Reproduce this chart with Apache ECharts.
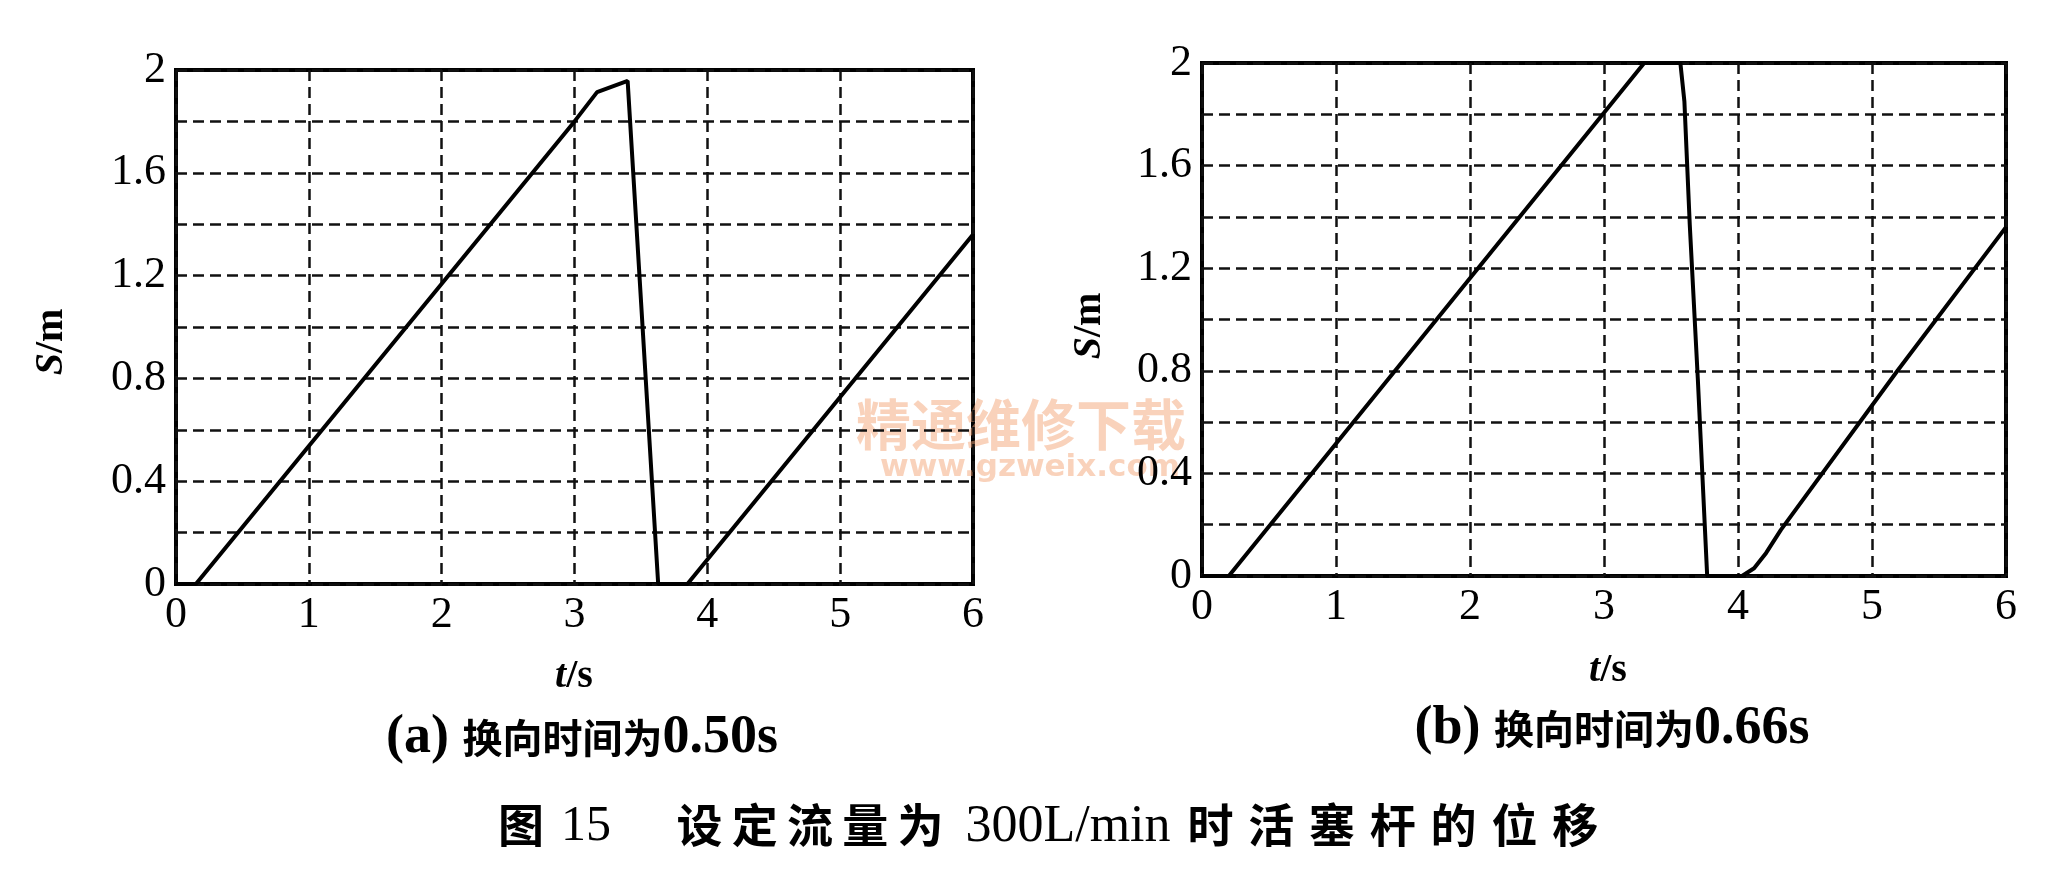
<!DOCTYPE html>
<html>
<head>
<meta charset="utf-8">
<script src="https://cdn.jsdelivr.net/npm/echarts@6/dist/echarts.min.js"></script>
<style>
html,body{margin:0;padding:0;background:#fff;}
#chart{width:2046px;height:882px;}
</style>
</head>
<body>
<div id="chart"></div>
<script>
// ---- data ----
const xTicks = [0, 1, 2, 3, 4, 5, 6];
const yTickLabels = ['0', '0.4', '0.8', '1.2', '1.6', '2'];

// (a) reversing time 0.50 s
const timeA = [0.0, 0.15, 3.0, 3.17, 3.40, 3.63, 3.85, 6.0];
const dispA = [0.0, 0.0, 1.80, 1.914, 1.958, 0.0, 0.0, 1.36];

// (b) reversing time 0.66 s
const timeB = [0.0, 0.2, 3.0, 3.30, 3.57, 3.60, 3.64, 3.70, 3.77, 4.03, 4.12, 4.21, 4.32, 5.19, 6.0];
const dispB = [0.0, 0.0, 1.806, 2.0, 2.0, 1.85, 1.37, 0.77, 0.0, 0.0, 0.03, 0.09, 0.18, 0.80, 1.36];

const titleA = ['(a) ', '换向时间为', '0.50s'];
const titleB = ['(b) ', '换向时间为', '0.66s'];
const yName = ['S', '/m'];
const xName = ['t', '/s'];

const pairs = (xs, ys) => xs.map((x, i) => [x, ys[i]]);

const latin = '"Liberation Serif", "DejaVu Serif", serif';
const cjk = '"Noto Sans CJK SC", sans-serif';

function makeX(gi) {
  return {
    type: 'value', gridIndex: gi, min: 0, max: 6, interval: 1,
    axisLine: {show: false}, axisTick: {show: false},
    axisLabel: {
      margin: 9, color: '#000', fontFamily: latin, fontSize: 44,
      formatter: v => (xTicks.indexOf(v) >= 0 ? String(v) : '')
    },
    splitLine: {show: true, lineStyle: {color: '#111', width: 2.5, type: [11, 6]}}
  };
}
function makeY(gi) {
  return {
    type: 'value', gridIndex: gi, min: 0, max: 2, interval: 0.2,
    axisLine: {show: false}, axisTick: {show: false},
    axisLabel: {
      margin: 10, color: '#000', fontFamily: latin, fontSize: 44,
      formatter: v => {
        const s = String(+v.toFixed(1));
        return yTickLabels.indexOf(s) >= 0 ? s : '';
      }
    },
    splitLine: {show: true, lineStyle: {color: '#111', width: 2.5, type: [11, 6]}}
  };
}

const richTitle = {
  l: {fontFamily: latin, fontWeight: 'bold', fontSize: 54, color: '#000'},
  c: {fontFamily: cjk, fontWeight: 'bold', fontSize: 40, color: '#000'}
};
const richAxisName = {
  i: {fontFamily: latin, fontWeight: 'bold', fontStyle: 'italic', fontSize: 40, color: '#000'},
  n: {fontFamily: latin, fontWeight: 'bold', fontSize: 40, color: '#000'}
};

function txt(x, y, text, rich, rotation) {
  return {
    type: 'text', x: x, y: y, rotation: rotation || 0,
    style: {text: text, rich: rich, align: 'center', verticalAlign: 'middle'}
  };
}

const graphics = [
  txt(52, 342, '{i|' + yName[0] + '}{n|' + yName[1] + '}', richAxisName, Math.PI / 2),
  txt(1090, 326, '{i|' + yName[0] + '}{n|' + yName[1] + '}', richAxisName, Math.PI / 2),
  txt(574, 677, '{i|' + xName[0] + '}{n|' + xName[1] + '}', richAxisName),
  txt(1608, 671, '{i|' + xName[0] + '}{n|' + xName[1] + '}', richAxisName),
  txt(582, 738, '{l|' + titleA[0] + '}{c|' + titleA[1] + '}{l|' + titleA[2] + '}', richTitle),
  txt(1612, 729, '{l|' + titleB[0] + '}{c|' + titleB[1] + '}{l|' + titleB[2] + '}', richTitle)
];

function charRow(str, x0, pitch, y, font, size, weight) {
  [...str].forEach((ch, k) => {
    graphics.push({
      type: 'text', x: x0 + pitch * (k + 0.5), y: y,
      style: {text: ch, fontFamily: font, fontSize: size, fontWeight: weight,
              fill: '#000', align: 'center', verticalAlign: 'middle'}
    });
  });
}
const capY = 825;
charRow('图', 498, 46, capY, cjk, 46, 'bold');
graphics.push({type: 'text', x: 586, y: capY + 2,
  style: {text: '15', fontFamily: latin, fontSize: 50, fill: '#000', align: 'center', verticalAlign: 'middle'}});
charRow('设定流量为', 672, 55.2, capY, cjk, 46, 'bold');
graphics.push({type: 'text', x: 1068, y: capY + 2,
  style: {text: '300L/min', fontFamily: latin, fontSize: 52, fill: '#000', align: 'center', verticalAlign: 'middle'}});
charRow('时活塞杆的位移', 1180, 60.8, capY, cjk, 46, 'bold');

// faint watermark of the scanned source
graphics.push({type: 'text', x: 1021, y: 424,
  style: {text: '精通维修下载', fontFamily: cjk, fontSize: 55, fontWeight: 'bold',
          fill: 'rgba(244,165,120,0.5)', align: 'center', verticalAlign: 'middle'}});
graphics.push({type: 'text', x: 1030, y: 468,
  style: {text: 'www.gzweix.com', fontFamily: '"DejaVu Sans", sans-serif', fontSize: 31, fontWeight: 'bold',
          fill: 'rgba(244,165,120,0.5)', align: 'center', verticalAlign: 'middle'}});

const chart = echarts.init(document.getElementById('chart'), null, {renderer: 'canvas'});
chart.setOption({
  animation: false,
  backgroundColor: '#fff',
  grid: [
    {left: 176, top: 70, width: 797, height: 514, show: true, borderColor: '#000', borderWidth: 4, backgroundColor: 'transparent'},
    {left: 1202, top: 63, width: 804, height: 513, show: true, borderColor: '#000', borderWidth: 4, backgroundColor: 'transparent'}
  ],
  xAxis: [makeX(0), makeX(1)],
  yAxis: [makeY(0), makeY(1)],
  series: [
    {type: 'line', xAxisIndex: 0, yAxisIndex: 0, data: pairs(timeA, dispA), showSymbol: false,
     lineStyle: {color: '#000', width: 4}, clip: false},
    {type: 'line', xAxisIndex: 1, yAxisIndex: 1, data: pairs(timeB, dispB), showSymbol: false,
     lineStyle: {color: '#000', width: 4}, clip: false}
  ],
  graphic: graphics
});
</script>
</body>
</html>
